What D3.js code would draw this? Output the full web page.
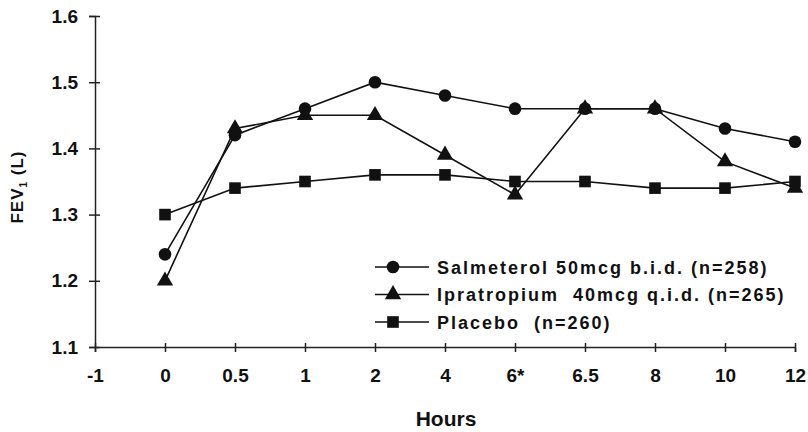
<!DOCTYPE html>
<html>
<head>
<meta charset="utf-8">
<script src="https://cdn.jsdelivr.net/npm/d3@7"></script>
<style>
  body { margin: 0; background: #fff; }
  text { font-family: "Liberation Sans", Arial, sans-serif; font-weight: bold; fill: #111; }
</style>
</head>
<body>
<div id="chart"></div>
<script>
// categorical hour ticks (equally spaced)
const hours = ["-1", "0", "0.5", "1", "2", "4", "6*", "6.5", "8", "10", "12"];
const pointHours = ["0", "0.5", "1", "2", "4", "6*", "6.5", "8", "10", "12"];
const yTicks = [1.1, 1.2, 1.3, 1.4, 1.5, 1.6];

const salmeterol = [1.24, 1.42, 1.46, 1.50, 1.48, 1.46, 1.46, 1.46, 1.43, 1.41];
const ipratropium = [1.20, 1.43, 1.45, 1.45, 1.39, 1.33, 1.46, 1.46, 1.38, 1.34];
const placebo = [1.30, 1.34, 1.35, 1.36, 1.36, 1.35, 1.35, 1.34, 1.34, 1.35];

const series = [
  { name: "Salmeterol 50mcg b.i.d. (n=258)", values: salmeterol, symbol: d3.symbolCircle, size: 125 },
  { name: "Ipratropium  40mcg q.i.d. (n=265)", values: ipratropium, symbol: d3.symbolTriangle, size: 115 },
  { name: "Placebo  (n=260)", values: placebo, symbol: d3.symbolSquare, size: 135 }
];

const W = 808, H = 432;
const margin = { top: 16, right: 13, bottom: 85, left: 95 };
const width = W - margin.left - margin.right;
const height = H - margin.top - margin.bottom;

const svg = d3.select("#chart").append("svg")
  .attr("width", W).attr("height", H);
const g = svg.append("g").attr("transform", `translate(${margin.left},${margin.top})`);

const x = d3.scalePoint().domain(hours).range([0, width]);
const y = d3.scaleLinear().domain([1.1, 1.6]).range([height, 0]);

// y axis
const yAxis = g.append("g")
  .call(d3.axisLeft(y).tickValues(yTicks).tickFormat(d3.format(".1f")).tickSize(6).tickPadding(11));
yAxis.selectAll(".tick line").attr("x2", 5).attr("x1", -6);
yAxis.selectAll("text").style("font-size", "19px");

// x axis
const xAxis = g.append("g")
  .attr("transform", `translate(0,${height})`)
  .call(d3.axisBottom(x).tickSize(5).tickPadding(17));
xAxis.selectAll(".tick line").attr("y1", -4).attr("y2", 5);
xAxis.selectAll("text").style("font-size", "19px");
g.selectAll(".domain, .tick line").attr("stroke", "#222").attr("stroke-width", 1.5);

// axis titles
svg.append("text")
  .attr("x", 446).attr("y", 426)
  .attr("text-anchor", "middle").style("font-size", "21px").text("Hours");

const yt = svg.append("text")
  .attr("transform", `translate(23,187) rotate(-90)`)
  .attr("text-anchor", "middle").style("font-size", "17px")
  .style("letter-spacing", "1px");
yt.append("tspan").text("FEV");
yt.append("tspan").attr("dy", 4).style("font-size", "10px").text("1");
yt.append("tspan").attr("dy", -4).text(" (L)");

// lines and markers
const line = d3.line()
  .x((d, i) => x(pointHours[i]))
  .y(d => y(d));

series.forEach(s => {
  g.append("path")
    .datum(s.values)
    .attr("fill", "none")
    .attr("stroke", "#111")
    .attr("stroke-width", 1.6)
    .attr("d", line);

  g.selectAll(null)
    .data(s.values)
    .enter().append("path")
    .attr("transform", (d, i) => `translate(${x(pointHours[i])},${y(d)})`)
    .attr("d", d3.symbol(s.symbol, s.size))
    .attr("fill", "#111");
});

// legend
const legend = svg.append("g").attr("transform", "translate(375,267)");
series.forEach((s, i) => {
  const row = legend.append("g").attr("transform", `translate(0,${i * 27.5})`);
  row.append("line")
    .attr("x1", 0).attr("x2", 54)
    .attr("stroke", "#111").attr("stroke-width", 1.6);
  row.append("path")
    .attr("transform", "translate(18,0)")
    .attr("d", d3.symbol(s.symbol, s.size))
    .attr("fill", "#111");
  row.append("text")
    .attr("x", 62).attr("y", 6.5)
    .style("font-size", "18px")
    .style("letter-spacing", "2px")
    .style("white-space", "pre")
    .text(s.name);
});
</script>
</body>
</html>
